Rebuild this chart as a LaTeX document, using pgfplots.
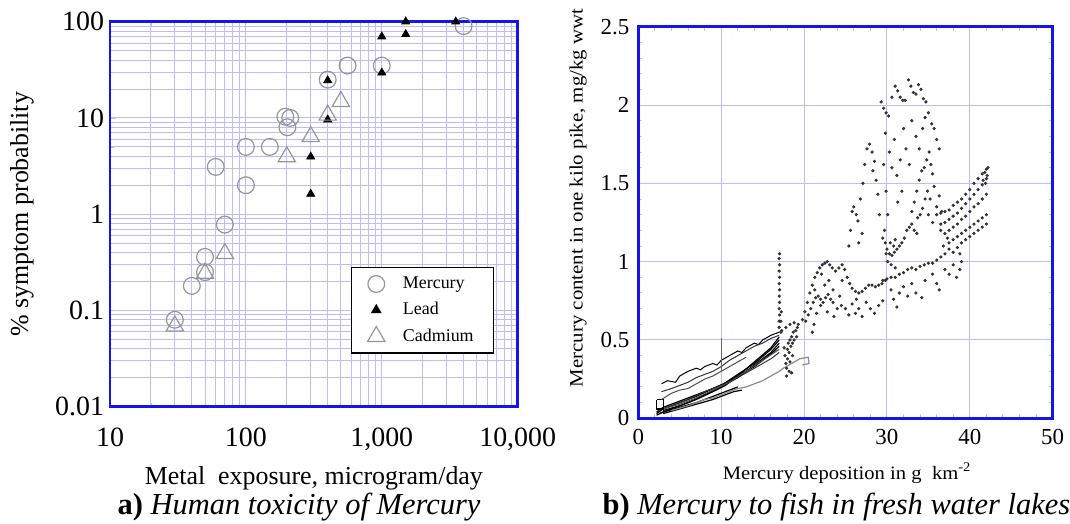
\documentclass[border=0pt]{standalone}
\usepackage{pgfplots}
\pgfplotsset{compat=1.18}
\usepackage{fontspec}
\setmainfont{Liberation Serif}
\definecolor{frameblue}{RGB}{20,20,235}
\definecolor{gridblue}{RGB}{188,188,255}
\definecolor{markgray}{RGB}{150,150,150}

\begin{document}
\begin{tikzpicture}
\useasboundingbox (0bp,0bp) rectangle (535bp,-262bp);

% ---------------- left panel ----------------
\begin{axis}[
  at={(55bp,-203.35bp)}, anchor=south west,
  scale only axis, width=203.85bp, height=192.5bp,
  xmode=log, ymode=log,
  xmin=10, xmax=10000, ymin=0.01, ymax=100,
  xtick={10,100,1000,10000}, xticklabels={10,100,{1,000},{10,000}},
  ytick={0.01,0.1,1,10,100}, yticklabels={0.01,0.1,1,10,100},
  grid=both,
  major grid style={gridblue, line width=0.5bp},
  minor grid style={gridblue, line width=0.45bp},
  axis line style={frameblue, line width=1.4bp},
  tick style={gridblue, line width=0.4bp},
  major tick length=3bp, minor tick length=2bp,
  tick align=inside,
  /pgf/number format/assume math mode=true,
  ticklabel style={font=\fontsize{14}{16}\selectfont},
  xticklabel style={yshift=-7bp},
  yticklabel style={xshift=0.5bp},
  xlabel={Metal\ \ exposure, microgram/day},
  ylabel={\% symptom probability},
  label style={font=\fontsize{13}{15}\selectfont},
  xlabel style={at={(axis description cs:0.5,0)}, anchor=center, yshift=-36bp},
  ylabel style={at={(axis description cs:-0.216,0.5)}, anchor=center},
  legend style={at={(rel axis cs:0.943,0.137)}, anchor=south east,
     draw=black, line width=0.8bp, font=\fontsize{9}{10}\selectfont,
     row sep=1.5bp, column sep=7bp, inner xsep=8bp, inner ysep=2.5bp},
  legend cell align=left,
  clip=false,
]
\addplot[only marks, mark=o, mark size=4.2bp, mark options={draw=markgray, line width=0.6bp}]
  coordinates {(4000,90) (560,35) (1000,35) (400,25) (195,10.3) (212,10) (202,8)
               (100,5) (150,5) (60,3.1) (100,2) (70,0.78) (50,0.36) (50,0.25)
               (40,0.18) (30,0.08)};
\addlegendentry{Mercury}
\addplot[only marks, mark=triangle*, mark size=2.3bp, mark options={fill=black, draw=black}]
  coordinates {(1500,100) (3500,100) (1000,70) (1500,74) (1000,29.5) (400,24.5)
               (400,9.6) (300,3.95) (300,1.62)};
\addlegendentry{Lead}
\addplot[only marks, mark=triangle, mark size=5bp, mark options={draw=markgray, line width=0.6bp}]
  coordinates {(500,14.8) (400,10.7) (300,6.4) (200,3.95) (70,0.39) (50,0.243) (30,0.069)};
\addlegendentry{Cadmium}
\end{axis}

% ---------------- right panel ----------------
\begin{axis}[
  at={(319.15bp,-209.15bp)}, anchor=south west,
  scale only axis, width=207.2bp, height=195.8bp,
  xmin=0, xmax=50, ymin=0, ymax=2.5,
  xtick={0,10,...,50}, ytick={0,0.5,...,2.5},
  minor x tick num=4, minor y tick num=4,
  grid=major,
  major grid style={gridblue, line width=0.5bp},
  axis line style={frameblue, line width=1.4bp},
  tick style={gridblue, line width=0.5bp},
  major tick length=3bp, minor tick length=2bp,
  tick align=inside,
  /pgf/number format/assume math mode=true,
  ticklabel style={font=\fontsize{11.5}{13}\selectfont},
  xticklabel style={yshift=-2bp},
  yticklabel style={xshift=-1bp},
  xlabel={\scalebox{1.09}[1]{Mercury deposition in g\ \ km\textsuperscript{-2}}},
  ylabel={\scalebox{1.1}[1]{Mercury content in one kilo pike, mg/kg wwt}},
  label style={font=\fontsize{9.5}{11}\selectfont},
  xlabel style={at={(axis description cs:0.504,0)}, anchor=center, yshift=-27.3bp},
  ylabel style={at={(axis description cs:-0.1455,0.5626)}, anchor=center},
  clip=false,
]
% dense bundle of lines, 2-17
\addplot[black, line width=0.6bp] coordinates {(2.2,0.03) (3,0.06) (5,0.1) (7,0.14) (9,0.19) (10.3,0.22) (12,0.28) (14,0.35) (16,0.44) (17,0.50)};
\addplot[black, line width=0.6bp] coordinates {(2.2,0.04) (3,0.07) (5,0.11) (7,0.15) (9,0.19) (10.3,0.22) (12,0.27) (14,0.33) (16,0.41) (17,0.46)};
\addplot[black!80, line width=0.5bp] coordinates {(2.5,0.05) (4,0.08) (6,0.12) (8,0.17) (10,0.21) (12,0.26) (14,0.32) (16,0.38) (17,0.42)};
\addplot[black, line width=0.6bp] coordinates {(2.5,0.03) (4,0.06) (6,0.1) (8,0.15) (10,0.2) (12,0.26) (14,0.34) (16,0.42) (17,0.48)};
\addplot[black, line width=0.6bp] coordinates {(3,0.05) (5,0.08) (7,0.12) (9,0.17) (10.5,0.21) (12,0.27) (14,0.36) (16,0.45) (17,0.52)};
\addplot[black!70, line width=0.5bp] coordinates {(3,0.06) (5,0.09) (7,0.13) (9,0.18) (11,0.23) (13,0.3) (15,0.37) (17,0.44)};
\addplot[black, line width=0.6bp] coordinates {(2.2,0.02) (3,0.04) (5,0.07) (7,0.1) (9,0.14) (11,0.18) (12,0.2)};
\addplot[black, line width=0.6bp] coordinates {(3,0.03) (5,0.06) (7,0.09) (9,0.12) (10.5,0.15) (11.5,0.17) (12.5,0.18)};
\addplot[black, line width=0.6bp] coordinates {(2.2,0.12) (2.2,0.06) (3,0.06) (3,0.12) (2.2,0.12)};
% upper wiggly lines
\addplot[black, line width=0.5bp] coordinates {(2.8,0.22) (3.5,0.24) (4.5,0.23) (5,0.27) (6,0.3) (7,0.32) (7.5,0.31) (8,0.33) (9,0.35) (9.5,0.34) (10,0.37) (11,0.40) (12,0.43) (12.5,0.42) (13,0.45) (14,0.48) (14.5,0.47) (15,0.5) (16,0.53) (17,0.55)};
\addplot[black!80, line width=0.5bp] coordinates {(2.8,0.17) (4,0.19) (5,0.21) (6,0.23) (7,0.26) (8,0.28) (9,0.3) (10,0.33) (11,0.37) (12,0.40) (13,0.43) (14,0.46) (15,0.48) (16,0.51) (17,0.53)};
\addplot[black!70, line width=0.5bp] coordinates {(2.8,0.12) (4,0.16) (5,0.18) (6,0.19) (7,0.22) (8,0.25) (9,0.27) (10,0.3) (11,0.33) (12,0.36) (13,0.39)};
% grey lower line
\addplot[black!45, line width=0.6bp] coordinates {(4,0.05) (6,0.08) (8,0.12) (9,0.13) (10,0.15) (11,0.17) (12,0.19) (13,0.2) (14,0.22) (15,0.24) (16,0.27) (17,0.3) (17.5,0.32) (18.5,0.35) (19.5,0.38) (20.5,0.39) (20.6,0.35) (19.8,0.34)};
% spike at x=10
\addplot[black!60, line width=0.5bp] coordinates {(10,0.3) (10,0.51)};
% scattered dots
\addplot[only marks, mark=*, mark size=0.6bp, mark options={fill=black!80, draw=black!80}] coordinates {
(17.0,0.58) (17.0,0.62) (17.05,0.66) (17.0,0.7) (17.05,0.74) (17.0,0.78) (17.05,0.82) (17.0,0.86) (17.05,0.9) (17.0,0.94) (17.05,0.98) (17.0,1.02) (17.05,1.05) (17.2,0.62) (17.25,0.68) (17.2,0.55)
(17.6,0.45) (17.7,0.4) (17.8,0.35) (17.9,0.32) (18.0,0.38) (18.0,0.44) (18.1,0.48) (18.2,0.42) (18.3,0.36) (18.3,0.5) (18.4,0.46) (18.5,0.52) (18.6,0.48) (18.7,0.55) (18.8,0.5) (19.0,0.56) (19.1,0.52) (19.2,0.58) (18.2,0.3) (18.5,0.29) (17.9,0.27) (18.6,0.4)
(17.3,0.56) (17.8,0.58) (18.3,0.6) (18.8,0.61) (19.3,0.6) (19.8,0.63) (20.1,0.68) (20.4,0.74) (20.7,0.8) (21.0,0.85) (21.3,0.9) (21.6,0.93) (21.9,0.96) (22.2,0.98) (22.5,0.99) (22.8,1.0) (23.1,0.98) (23.4,0.96)
(20.2,0.62) (20.5,0.66) (20.8,0.7) (21.1,0.74) (21.4,0.77) (21.7,0.78) (22.0,0.76) (22.3,0.74) (22.6,0.77) (22.9,0.79) (23.2,0.76) (23.5,0.74)
(21.0,0.55) (21.2,0.6) (21.5,0.67) (22.0,0.72) (22.5,0.85) (23.0,0.88) (23.5,0.82) (24.0,0.7) (24.3,0.78) (24.6,0.88) (22.8,0.68) (21.3,0.82) (22.1,0.92)
(23.8,0.94) (24.2,0.96) (24.6,0.98) (24.9,0.95) (25.2,0.9) (25.5,0.86) (25.8,0.83) (26.2,0.81) (26.6,0.8) (27.0,0.81) (27.4,0.83) (27.8,0.85) (28.2,0.85) (28.6,0.84) (29.0,0.85) (29.4,0.86) (29.8,0.88)
(24.5,0.72) (25.0,0.7) (25.4,0.66) (25.8,0.73) (26.2,0.67) (26.6,0.7) (27.0,0.65) (27.5,0.74) (28.0,0.7) (28.5,0.67) (29.0,0.72) (29.5,0.75) (23.6,0.65) (26.3,0.76)
(25.4,1.1) (25.6,1.2) (25.8,1.32) (26.0,1.35) (26.3,1.3) (26.5,1.26) (26.8,1.4) (27.1,1.5) (27.3,1.62) (27.6,1.72) (27.9,1.75) (28.2,1.7) (28.5,1.64) (28.7,1.52) (28.9,1.43) (29.1,1.3) (28.3,1.58) (27.0,1.18) (26.6,1.12)
(29.3,2.02) (29.6,1.98) (29.9,1.95) (30.2,1.93) (30.6,2.05) (31.0,2.12) (31.3,2.09) (31.6,2.05) (31.9,2.03) (32.2,2.03) (32.6,2.16) (32.9,2.12) (33.2,2.08) (33.5,2.07) (33.8,2.13) (34.1,2.1) (34.4,2.04) (34.7,2.02) (35.0,1.95) (35.4,1.88) (35.7,1.85) (36.0,1.78) (36.3,1.72)
(29.8,1.82) (30.3,1.7) (30.6,1.6) (30.9,1.78) (31.2,1.55) (31.6,1.65) (32.0,1.85) (32.3,1.72) (32.7,1.62) (33.0,1.9) (33.5,1.8) (33.9,1.72) (34.3,1.85) (34.6,1.92) (29.6,1.62) (29.9,1.45) (30.1,1.3) (29.7,1.2) (31.3,1.38) (31.8,1.45)
(29.5,1.15) (29.8,1.12) (30.0,1.08) (30.3,1.05) (30.6,1.04) (30.9,1.06) (31.2,1.08) (31.5,1.1) (31.8,1.12) (32.1,1.15) (32.4,1.2) (32.7,1.22) (33.0,1.24) (33.3,1.2) (33.6,1.18) (30.1,1.0) (30.5,0.98) (31.0,0.96) (30.4,1.12) (31.0,1.14) (29.9,1.05) (30.8,1.1)
(33.0,1.32) (33.3,1.38) (33.6,1.45) (33.9,1.52) (34.2,1.58) (34.5,1.6) (34.8,1.65) (35.1,1.7) (35.3,1.62) (35.5,1.56) (35.7,1.48) (34.0,1.3) (34.3,1.34) (34.6,1.4) (34.9,1.45) (35.2,1.4) (33.7,1.28) (35.0,1.3) (35.5,1.25) (36.0,1.35) (36.3,1.42) (36.6,1.32)
(36.0,1.3) (36.5,1.31) (37,1.32) (37.5,1.33) (38,1.36) (38.5,1.38) (39,1.4) (39.5,1.43) (40,1.46) (40.5,1.5) (41,1.53) (41.5,1.56) (42,1.59)
(36.5,1.24) (37,1.25) (37.5,1.27) (38,1.29) (38.5,1.31) (39,1.34) (39.5,1.37) (40,1.4) (40.5,1.43) (41,1.46) (41.5,1.49) (42,1.53)
(37,1.18) (37.5,1.2) (38,1.22) (38.5,1.24) (39,1.27) (39.5,1.29) (40,1.32) (40.5,1.35) (41,1.37) (41.5,1.4) (42,1.43)
(37.5,1.12) (38,1.14) (38.5,1.16) (39,1.18) (39.5,1.2) (40,1.22) (40.5,1.24) (41,1.26) (41.5,1.28) (42,1.3)
(38,1.06) (38.5,1.09) (39,1.12) (39.5,1.14) (40,1.16) (40.5,1.18) (41,1.2) (41.5,1.22) (42,1.24)
(41.8,1.57) (42.1,1.55) (41.9,1.5) (42.2,1.6) (41.6,1.52)
(29.5,0.88) (30,0.89) (30.5,0.9) (31,0.9) (31.5,0.92) (32,0.93) (32.5,0.95) (33,0.96) (33.5,0.95) (34,0.97) (34.5,0.98) (35,0.99) (35.5,0.99) (36,1.01) (36.5,1.03) (37,1.05) (37.5,1.08)
(30.5,0.82) (30.8,0.76) (31.2,0.71) (31.5,0.8) (32,0.84) (32.5,0.78) (33,0.86) (33.5,0.8) (34.2,0.77) (34.6,0.88) (35.5,0.92) (36,0.86) (36.3,0.82) (37,0.95) (37.5,0.92) (38,0.98) (38.4,0.9) (38.8,0.95) (39,1.0) (36.8,1.1) (37.3,1.15) (36.5,1.2) (38.8,1.05)
};
\end{axis}

% captions
\node[anchor=base, font=\fontsize{15.3}{17}\selectfont] at (149.5bp,-257bp) {\textbf{a)} \textit{Human toxicity of Mercury}};
\node[anchor=base, font=\fontsize{15.3}{17}\selectfont] at (418.2bp,-257bp) {\textbf{b)} \textit{Mercury to fish in fresh water lakes}};
\end{tikzpicture}
\end{document}
